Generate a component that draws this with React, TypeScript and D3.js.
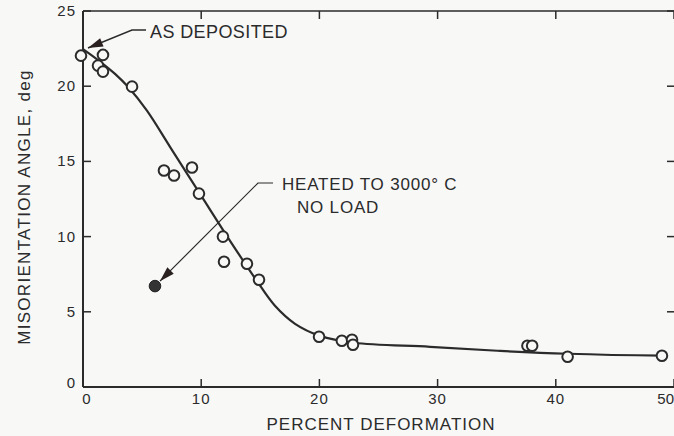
import React from "react";
import * as d3 from "d3";

// Measured data (percent deformation, misorientation angle in deg)
const deformation = [-0.17, 1.27, 1.69, 1.69, 4.15, 6.85, 7.7, 9.22, 9.81, 11.84, 11.93, 13.87, 14.89, 19.97, 21.9, 22.76, 22.84, 37.6, 38.0, 41.0, 48.98];
const angle = [22.03, 21.37, 22.08, 20.97, 19.97, 14.39, 14.06, 14.59, 12.86, 10.0, 8.33, 8.19, 7.13, 3.34, 3.08, 3.14, 2.81, 2.74, 2.74, 2.01, 2.08];

// Heated to 3000 C, no load
const heatedX = [6.09];
const heatedY = [6.71];

// Faired curve
const curveX = [0, 1.44, 2.71, 3.81, 5.41, 7.36, 9.9, 12.44, 14.64, 16.24, 17.94, 20.05, 22.93, 29.36, 35.3, 41.03, 49.0];
const curveY = [22.47, 21.64, 20.82, 19.96, 18.37, 15.97, 12.84, 9.72, 7.13, 5.4, 4.2, 3.4, 2.94, 2.67, 2.4, 2.21, 2.08];

const xTicks = [0, 10, 20, 30, 40, 50];
const yTicks = [0, 5, 10, 15, 20, 25];

const W = 674;
const H = 436;
const INK = "#2b2b2b";
const FONT = "'Liberation Sans', Arial, sans-serif";

function arrowHead(tx: number, ty: number, fx: number, fy: number, L = 15, w = 4.5) {
  const dx = tx - fx;
  const dy = ty - fy;
  const len = Math.hypot(dx, dy);
  const ux = dx / len;
  const uy = dy / len;
  const bx = tx - ux * L;
  const by = ty - uy * L;
  const nx = -uy;
  const ny = ux;
  return `${tx},${ty} ${bx + nx * w},${by + ny * w} ${bx - nx * w},${by - ny * w}`;
}

export default function App() {
  const x = d3.scaleLinear().domain([0, 50]).range([83, 674]);
  const y = d3.scaleLinear().domain([0, 25]).range([387, 11]);

  const left = x(0);
  const right = 675;
  const top = y(25);
  const bottom = y(0);

  const curvePts: [number, number][] = curveX.map((v, i) => [x(v), y(curveY[i])]);
  const line = d3.line().curve(d3.curveCatmullRom.alpha(0.5))(curvePts) || "";

  // annotation 1: AS DEPOSITED
  const a1tip: [number, number] = [x(0.42), y(22.54)];
  const a1elbow: [number, number] = [132, 30];
  const a1end: [number, number] = [146, 30];

  // annotation 2: heated
  const hx = x(heatedX[0]);
  const hy = y(heatedY[0]);
  const a2elbow: [number, number] = [258, 183];
  const a2end: [number, number] = [273, 183];
  const ddx = a2elbow[0] - hx;
  const ddy = a2elbow[1] - hy;
  const dl = Math.hypot(ddx, ddy);
  const a2tip: [number, number] = [hx + (ddx / dl) * 7, hy + (ddy / dl) * 7];

  return (
    <svg
      width={W}
      height={H}
      viewBox={`0 0 ${W} ${H}`}
      style={{ position: "absolute", left: 0, top: 0, background: "#f8f8f7" }}
    >
      <rect x={0} y={0} width={W} height={H} fill="#f8f8f7" />
      {/* frame */}
      <line x1={left} x2={left} y1={top} y2={bottom} stroke={INK} strokeWidth={2} />
      <line x1={left} x2={right} y1={bottom} y2={bottom} stroke={INK} strokeWidth={2} />
      <line x1={left} x2={right} y1={top} y2={top} stroke={INK} strokeWidth={1.6} />
      <line x1={right} x2={right} y1={top} y2={bottom} stroke={INK} strokeWidth={1.6} />

      {/* ticks */}
      {xTicks.map((t) => (
        <g key={"xt" + t}>
          <line x1={x(t)} x2={x(t)} y1={bottom} y2={bottom - 8} stroke={INK} strokeWidth={1.5} />
          <line x1={x(t)} x2={x(t)} y1={top} y2={top + 8} stroke={INK} strokeWidth={1.5} />
          <text
            x={t === 50 ? 674 : x(t) + (t === 0 ? 4 : 0)}
            y={bottom + 17}
            textAnchor={t === 50 ? "end" : "middle"}
            fontFamily={FONT}
            fontSize={15}
            letterSpacing={t === 50 ? 0 : 1}
            fill={INK}
          >
            {t}
          </text>
        </g>
      ))}
      {yTicks.map((t) => (
        <g key={"yt" + t}>
          <line x1={left} x2={left + 8} y1={y(t)} y2={y(t)} stroke={INK} strokeWidth={1.5} />
          <line x1={right} x2={right - 8} y1={y(t)} y2={y(t)} stroke={INK} strokeWidth={1.5} />
          <text
            x={left - 7}
            y={y(t) + (t === 0 ? 1 : 5)}
            textAnchor="end"
            fontFamily={FONT}
            fontSize={15}
            letterSpacing={1}
            fill={INK}
          >
            {t}
          </text>
        </g>
      ))}

      {/* axis titles */}
      <text
        x={381}
        y={430}
        textAnchor="middle"
        fontFamily={FONT}
        fontSize={17}
        letterSpacing={1}
        fill={INK}
      >
        PERCENT DEFORMATION
      </text>
      <text
        transform={`translate(30, 207) rotate(-90)`}
        textAnchor="middle"
        fontFamily={FONT}
        fontSize={17}
        letterSpacing={1.3}
        fill={INK}
      >
        MISORIENTATION ANGLE, deg
      </text>

      {/* faired curve */}
      <path d={line} fill="none" stroke={INK} strokeWidth={2.2} />

      {/* data points */}
      {deformation.map((v, i) => (
        <circle
          key={"p" + i}
          cx={x(v)}
          cy={y(angle[i])}
          r={5.3}
          fill="#f8f8f7"
          stroke={INK}
          strokeWidth={2}
        />
      ))}
      {heatedX.map((v, i) => (
        <circle key={"h" + i} cx={x(v)} cy={y(heatedY[i])} r={5.8} fill="#333" stroke="#222" strokeWidth={1} />
      ))}

      {/* annotation: AS DEPOSITED */}
      <polyline
        points={`${a1end[0]},${a1end[1]} ${a1elbow[0]},${a1elbow[1]} ${a1tip[0]},${a1tip[1]}`}
        fill="none"
        stroke={INK}
        strokeWidth={1.4}
      />
      <polygon points={arrowHead(a1tip[0], a1tip[1], a1elbow[0], a1elbow[1])} fill="#2a2020" />
      <text x={150} y={38} fontFamily={FONT} fontSize={18} letterSpacing={0.4} fill={INK}>
        AS DEPOSITED
      </text>

      {/* annotation: heated */}
      <polyline
        points={`${a2end[0]},${a2end[1]} ${a2elbow[0]},${a2elbow[1]} ${a2tip[0]},${a2tip[1]}`}
        fill="none"
        stroke={INK}
        strokeWidth={1.2}
      />
      <polygon points={arrowHead(a2tip[0], a2tip[1], a2elbow[0], a2elbow[1])} fill="#2a2020" />
      <text x={282} y={190} fontFamily={FONT} fontSize={17} letterSpacing={0.8} fill={INK}>
        HEATED TO 3000° C
      </text>
      <text x={297} y={213} fontFamily={FONT} fontSize={17} letterSpacing={0.8} fill={INK}>
        NO LOAD
      </text>
    </svg>
  );
}
